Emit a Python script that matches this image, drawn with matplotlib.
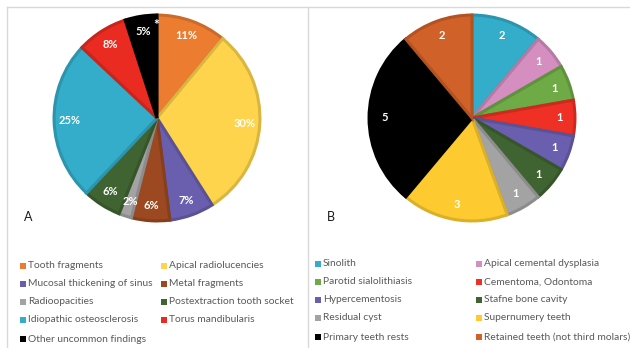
import matplotlib
matplotlib.use("Agg")
import matplotlib.pyplot as plt
from matplotlib.patches import Rectangle
from matplotlib.lines import Line2D
from matplotlib.colors import to_rgb

# Panel A: share of findings (%)
findings_a = ["Tooth fragments", "Apical radiolucencies", "Mucosal thickening of sinus",
              "Metal fragments", "Radioopacities", "Postextraction tooth socket",
              "Idiopathic osteosclerosis", "Torus mandibularis", "Other uncommon findings"]
values_a = [11, 30, 7, 6, 2, 6, 25, 8, 5]
colors_a = ["#EC7C30", "#FDD44B", "#6A5FAE", "#9C4921", "#A3A3A3", "#3F6431",
            "#33ADC9", "#E92B21", "#000000"]

# Panel B: counts of uncommon findings
findings_b = ["Sinolith", "Apical cemental dysplasia", "Parotid sialolithiasis",
              "Cementoma, Odontoma", "Hypercementosis", "Stafne bone cavity",
              "Residual cyst", "Supernumery teeth", "Primary teeth rests",
              "Retained teeth (not third molars)"]
values_b = [2, 1, 1, 1, 1, 1, 1, 3, 5, 2]
colors_b = ["#33ADC9", "#D48FC0", "#6EAA46", "#EE3124", "#6A5FAE", "#3F6431",
            "#A3A3A3", "#FDCB30", "#000000", "#D06128"]

W, H = 630, 348
FONT = ["Lato", "DejaVu Sans"]
TXT = "#595959"
fig = plt.figure(figsize=(W / 100, H / 100), dpi=100)
fig.patch.set_facecolor("white")


def px_axes(cx, cy, r):
    return fig.add_axes([(cx - r) / W, (H - cy - r) / H, 2 * r / W, 2 * r / H])


def darker(c, f=0.86):
    r, g, b = to_rgb(c)
    return (r * f, g * f, b * f)


def draw_pie(ax, values, colors, fmt):
    wedges, texts = ax.pie(values, colors=colors, startangle=90, counterclock=False,
                           labels=[fmt(v) for v in values], labeldistance=0.85,
                           wedgeprops=dict(linewidth=2.2),
                           textprops=dict(color="white", fontsize=8, fontweight="bold",
                                          family=FONT, ha="center", va="center"))
    for w, c in zip(wedges, colors):
        w.set_edgecolor(darker(c))
    ax.set_xlim(-1.02, 1.02)
    ax.set_ylim(-1.02, 1.02)
    ax.set_aspect("equal")
    ax.axis("off")
    return wedges, texts


# Pie A
ax_a = px_axes(157, 118, 105)
_, texts_a = draw_pie(ax_a, values_a, colors_a, lambda v: f"{v}%")
tx, ty = texts_a[-1].get_position()
ax_a.annotate("*", (tx, ty), xytext=(9, 5), textcoords="offset points",
              color="white", fontsize=10, fontweight="bold", family=FONT,
              ha="center", va="center")

# Pie B
ax_b = px_axes(472, 118, 105)
draw_pie(ax_b, values_b, colors_b, lambda v: f"{v}")

# Panel letters
fig.text(24 / W, 1 - 217 / H, "A", fontsize=9, family=FONT, color="#1a1a1a", va="center")
fig.text(327 / W, 1 - 217 / H, "B", fontsize=9, family=FONT, color="#1a1a1a", va="center")


def legend(names, colors, x_cols, y_rows, box=6):
    for i, (n, c) in enumerate(zip(names, colors)):
        col, row = i % 2, i // 2
        x, y = x_cols[col], y_rows[row]
        fig.patches.append(Rectangle(((x) / W, (H - y - box / 2) / H), box / W, box / H,
                                     transform=fig.transFigure, facecolor=c,
                                     edgecolor="none"))
        fig.text((x + box + 2) / W, 1 - y / H, n, fontsize=7.4, family=FONT,
                 color=TXT, va="center", ha="left")


legend(findings_a, colors_a, [20, 161], [266, 284, 302, 320, 339])
legend(findings_b, colors_b, [315, 476], [264, 282, 300, 318, 337])

# Panel frames
frame = "#D9D9D9"
for xs, ys in [([7, W], [7, 7]), ([7, 7], [7, H]), ([307.5, 307.5], [7, H])]:
    fig.lines.append(Line2D([x / W for x in xs], [1 - y / H for y in ys],
                            transform=fig.transFigure, color=frame, linewidth=1.0))

fig.savefig("out.png", dpi=100, facecolor="white")
